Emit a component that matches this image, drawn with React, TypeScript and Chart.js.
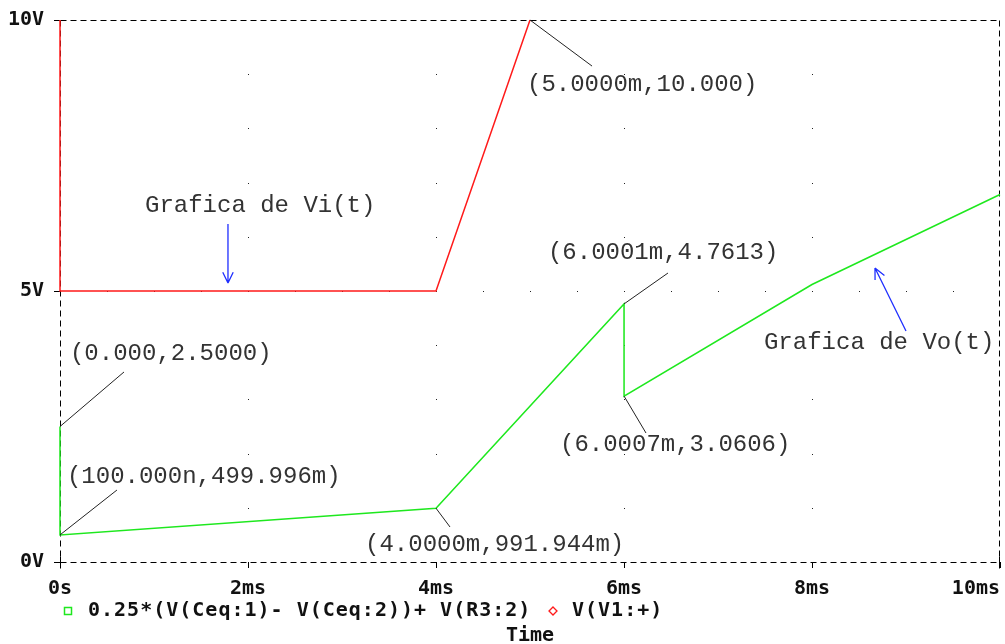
import React, { useEffect, useRef } from 'react';
import { Chart, registerables } from 'chart.js';

Chart.register(...registerables);

// ---- data (ms, V) ----
const viTime = [0, 0, 4, 5];
const viVolts = [10, 5, 5, 10];
const voTime = [0, 0.0001, 4, 6.0001, 6.0007, 8, 10];
const voVolts = [2.5, 0.499996, 0.991944, 4.7613, 3.0606, 5.12, 6.78];

const xTicks = [0, 2, 4, 6, 8, 10];
const xTickLabels = ['0s', '2ms', '4ms', '6ms', '8ms', '10ms'];
const yTicks = [0, 5, 10];
const yTickLabels = ['0V', '5V', '10V'];
const axisTitle = 'Time';
const legendLabels = ['0.25*(V(Ceq:1)- V(Ceq:2))+ V(R3:2)', 'V(V1:+)'];
const cursorLabels = [
  '(5.0000m,10.000)',
  '(0.000,2.5000)',
  '(100.000n,499.996m)',
  '(4.0000m,991.944m)',
  '(6.0001m,4.7613)',
  '(6.0007m,3.0606)',
];
const noteLabels = ['Grafica de Vi(t)', 'Grafica de Vo(t)'];

const GREEN = '#1ee81e';
const RED = '#ff1a1a';
const BLUE = '#1f2fff';

export default function App() {
  const ref = useRef<HTMLCanvasElement | null>(null);

  useEffect(() => {
    const canvas = ref.current;
    if (!canvas) return;

    // annotation layout (data coordinates)
    const cursors = [
      { text: cursorLabels[0], at: [viTime[3], viVolts[3]], lead: [5.66, 9.15], pos: [4.968, 8.8] },
      { text: cursorLabels[1], at: [voTime[0], voVolts[0]], lead: [0.681, 3.506], pos: [0.106, 3.838] },
      { text: cursorLabels[2], at: [voTime[1], voVolts[1]], lead: [0.606, 1.328], pos: [0.074, 1.568] },
      { text: cursorLabels[3], at: [voTime[2], voVolts[2]], lead: [4.149, 0.646], pos: [3.245, 0.314] },
      { text: cursorLabels[4], at: [voTime[3], voVolts[3]], lead: [6.468, 5.332], pos: [5.191, 5.701] },
      { text: cursorLabels[5], at: [voTime[4], voVolts[4]], lead: [6.234, 2.38], pos: [5.319, 2.159] },
    ];
    const notes = [
      { text: noteLabels[0], pos: [0.904, 6.568], from: [1.787, 6.236], to: [1.787, 5.148] },
      { text: noteLabels[1], pos: [7.489, 4.041], from: [9.0, 4.262], to: [8.67, 5.424] },
    ];

    const framePlugin = {
      id: 'pspiceFrame',
      beforeDatasetsDraw(chart: any) {
        const ctx = chart.ctx;
        const { left, right, top, bottom } = chart.chartArea;
        const xs = chart.scales.x;
        const ys = chart.scales.y;
        ctx.save();
        // dotted grid
        ctx.fillStyle = '#222';
        for (const t of [2, 4, 6, 8]) {
          for (let v = 1; v <= 9; v++) {
            ctx.fillRect(Math.round(xs.getPixelForValue(t)), Math.round(ys.getPixelForValue(v)), 1, 1);
          }
        }
        for (let t = 0.5; t < 10; t += 0.5) {
          ctx.fillRect(Math.round(xs.getPixelForValue(t)), Math.round(ys.getPixelForValue(5)), 1, 1);
        }
        // dashed frame
        ctx.strokeStyle = '#000';
        ctx.lineWidth = 1;
        ctx.setLineDash([6, 4]);
        const l = Math.round(left) + 0.5;
        const r = Math.round(right) - 0.5;
        const t = Math.round(top) + 0.5;
        const b = Math.round(bottom) + 0.5;
        ctx.beginPath();
        ctx.moveTo(l, t); ctx.lineTo(r, t);
        ctx.moveTo(r, t); ctx.lineTo(r, b);
        ctx.moveTo(l, b); ctx.lineTo(r, b);
        ctx.moveTo(l, t); ctx.lineTo(l, b);
        ctx.stroke();
        ctx.setLineDash([]);
        ctx.beginPath();
        ctx.moveTo(l, b - 6); ctx.lineTo(l, b + 6);
        ctx.moveTo(r, b - 6); ctx.lineTo(r, b + 6);
        ctx.stroke();
        ctx.restore();
      },
      afterDraw(chart: any) {
        const ctx = chart.ctx;
        const xs = chart.scales.x;
        const ys = chart.scales.y;
        const px = (p: number[]) => [xs.getPixelForValue(p[0]), ys.getPixelForValue(p[1])];
        ctx.save();
        ctx.font = "24px 'Liberation Mono'";
        ctx.textBaseline = 'middle';
        ctx.textAlign = 'left';
        // cursor readouts
        for (const c of cursors) {
          const a = px(c.at);
          const e = px(c.lead);
          const p = px(c.pos);
          ctx.strokeStyle = '#222';
          ctx.lineWidth = 1;
          ctx.beginPath();
          ctx.moveTo(a[0], a[1]);
          ctx.lineTo(e[0], e[1]);
          ctx.stroke();
          ctx.fillStyle = '#333';
          ctx.fillText(c.text, p[0], p[1]);
        }
        // notes with arrows
        for (const n of notes) {
          const p = px(n.pos);
          ctx.fillStyle = '#333';
          ctx.fillText(n.text, p[0], p[1]);
          const f = px(n.from);
          const t = px(n.to);
          ctx.strokeStyle = BLUE;
          ctx.lineWidth = 1.3;
          ctx.beginPath();
          ctx.moveTo(f[0], f[1]);
          ctx.lineTo(t[0], t[1]);
          const ang = Math.atan2(t[1] - f[1], t[0] - f[0]);
          const L = 12;
          for (const s of [-0.45, 0.45]) {
            ctx.moveTo(t[0], t[1]);
            ctx.lineTo(t[0] - L * Math.cos(ang + s), t[1] - L * Math.sin(ang + s));
          }
          ctx.stroke();
        }
        // legend
        const ly = 611;
        ctx.font = "bold 20px 'DejaVu Sans Mono'";
        (ctx as any).letterSpacing = '1px';
        ctx.fillStyle = '#111';
        ctx.strokeStyle = GREEN;
        ctx.lineWidth = 1.5;
        ctx.strokeRect(64.5, ly - 3.5, 7, 7);
        ctx.fillText(legendLabels[0], 88, ly);
        ctx.strokeStyle = RED;
        ctx.lineWidth = 1.3;
        ctx.beginPath();
        ctx.moveTo(553, ly - 4);
        ctx.lineTo(557, ly);
        ctx.lineTo(553, ly + 4);
        ctx.lineTo(549, ly);
        ctx.closePath();
        ctx.stroke();
        ctx.fillText(legendLabels[1], 572, ly);
        (ctx as any).letterSpacing = '0px';
        ctx.restore();
      },
    };

    const tickFont = { family: "'DejaVu Sans Mono'", size: 20, weight: 'bold' as const };

    const chart = new Chart(canvas, {
      type: 'line',
      data: {
        datasets: [
          {
            label: legendLabels[0],
            data: voTime.map((t, i) => ({ x: t, y: voVolts[i] })),
            borderColor: GREEN,
            borderWidth: 1.5,
            pointRadius: 0,
            tension: 0,
            clip: 3,
          },
          {
            label: legendLabels[1],
            data: viTime.map((t, i) => ({ x: t, y: viVolts[i] })),
            borderColor: RED,
            borderWidth: 1.5,
            pointRadius: 0,
            tension: 0,
            clip: 3,
          },
        ],
      },
      options: {
        responsive: false,
        animation: false,
        events: [],
        layout: { padding: { left: 0, right: 5, top: 20, bottom: 0 } },
        plugins: {
          legend: { display: false },
          tooltip: { enabled: false },
          title: { display: false },
        },
        scales: {
          x: {
            type: 'linear',
            min: 0,
            max: 10,
            afterBuildTicks: (s: any) => {
              s.ticks = xTicks.map((v) => ({ value: v }));
            },
            afterFit: (s: any) => {
              s.height = 82;
              s.paddingLeft = 0;
              s.paddingRight = 0;
            },
            ticks: {
              autoSkip: false,
              maxRotation: 0,
              padding: 9,
              color: '#111',
              font: tickFont,
              callback: (_v: any, i: number) =>
                i === xTickLabels.length - 1 ? xTickLabels[i] + '    ' : xTickLabels[i],
            },
            grid: {
              drawOnChartArea: false,
              drawTicks: true,
              tickLength: 6,
              color: '#000',
              lineWidth: 1,
            },
            border: { display: false },
            title: {
              display: true,
              text: axisTitle,
              color: '#111',
              font: { family: "'DejaVu Sans Mono'", size: 20, weight: 'bold', lineHeight: 0.8 },
              padding: { top: 0, bottom: 0 },
            },
          },
          y: {
            type: 'linear',
            min: 0,
            max: 10,
            afterBuildTicks: (s: any) => {
              s.ticks = yTicks.map((v) => ({ value: v }));
            },
            afterFit: (s: any) => {
              s.width = 60;
              s.paddingTop = 0;
              s.paddingBottom = 0;
            },
            ticks: {
              padding: 10,
              color: '#111',
              font: tickFont,
              callback: (_v: any, i: number) => yTickLabels[i],
            },
            grid: {
              drawOnChartArea: false,
              drawTicks: true,
              tickLength: 6,
              color: '#000',
              lineWidth: 1,
            },
            border: { display: false },
          },
        },
      },
      plugins: [framePlugin],
    });

    return () => chart.destroy();
  }, []);

  return (
    <div style={{ position: 'absolute', left: 0, top: 0, width: 1005, height: 644, background: '#fff' }}>
      <canvas ref={ref} width={1005} height={644} style={{ display: 'block' }} />
    </div>
  );
}
